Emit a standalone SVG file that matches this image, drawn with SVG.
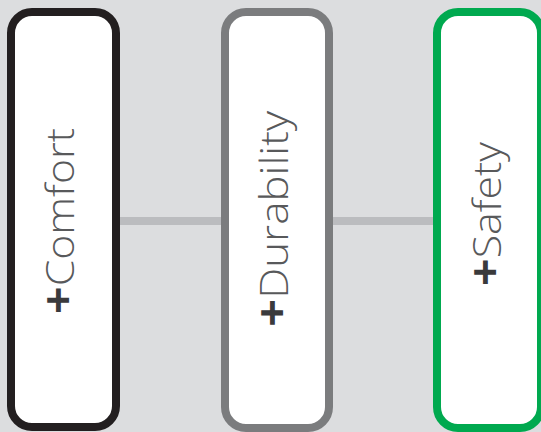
<svg xmlns="http://www.w3.org/2000/svg" width="541" height="432" viewBox="0 0 541 432">
<style>
.box{fill:#ffffff;stroke-width:8}
.lbl{font-family:"Open Sans","Segoe UI","Liberation Sans",sans-serif;font-weight:300;font-size:39px;fill:#58595b;text-anchor:middle}
.plus{font-weight:700;font-size:44px;fill:#3a3a3c}
.conn{stroke:#bbbcbf;stroke-width:8;fill:none}
</style>
<rect x="0" y="0" width="541" height="432" fill="#dcdddf"/>
<g id="connectors">
<line class="conn" x1="120" y1="221" x2="221" y2="221"/>
<line class="conn" x1="333" y1="221" x2="433" y2="221"/>
</g>
<g id="comfort">
<rect class="box" x="11" y="12" width="105" height="415" rx="21" stroke="#231f20"/>
<text class="lbl" transform="translate(74,221) rotate(-90)" textLength="186" lengthAdjust="spacingAndGlyphs"><tspan class="plus">+</tspan>Comfort</text>
</g>
<g id="durability">
<rect class="box" x="225" y="12" width="104" height="416" rx="21" stroke="#7b7c7e"/>
<text class="lbl" transform="translate(288,219) rotate(-90)" textLength="216" lengthAdjust="spacingAndGlyphs"><tspan class="plus">+</tspan>Durability</text>
</g>
<g id="safety">
<rect class="box" x="437" y="12" width="104" height="416" rx="21" stroke="#00a94f"/>
<text class="lbl" transform="translate(501,214) rotate(-90)" textLength="144" lengthAdjust="spacingAndGlyphs"><tspan class="plus">+</tspan>Safety</text>
</g>
</svg>
